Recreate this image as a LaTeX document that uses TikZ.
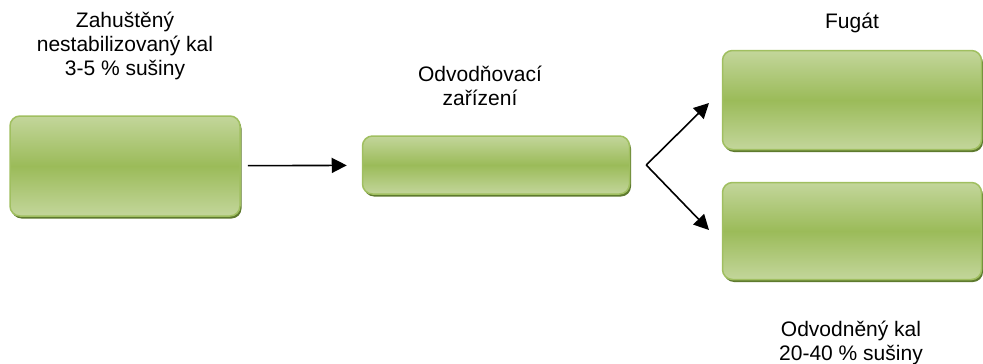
\documentclass[tikz,border=0pt]{standalone}
\usepackage{fontspec}
\setmainfont{Liberation Sans}
\usepackage{tikz}
\usetikzlibrary{positioning, arrows.meta, shadows}
\usepackage{xcolor}

\definecolor{kalLight}{HTML}{C3D69B}
\definecolor{kalMid}{HTML}{9BBB59}
\definecolor{kalEdge}{HTML}{A0BF60}
\definecolor{kalShadow}{HTML}{5E7A2E}

\tikzset{
	kalbox/.style={rounded corners=10pt, draw=kalEdge, line width=1.5pt,
		top color=kalLight, bottom color=kalLight, middle color=kalMid,
		drop shadow={shadow xshift=1.5pt, shadow yshift=-2.5pt, fill=kalShadow, opacity=1},
		inner sep=0pt},
	popis/.style={align=center, anchor=base, inner sep=0pt,
		font=\fontsize{21pt}{24pt}\selectfont},
	sipka/.style={-{Triangle[length=15pt, width=15pt]}, line width=1.6pt, black}
}

\begin{document}
\begin{tikzpicture}[x=1pt, y=-1pt]
					\useasboundingbox (0,0) rectangle (983,364);
					
					\node[kalbox, minimum width=230pt, minimum height=100pt] at (125,166) (zahusteny) {};
					\node[kalbox, minimum width=267pt, minimum height=58pt] at (496,165) (odvodnovac) {};
					\node[kalbox, minimum width=259pt, minimum height=99pt] at (852,100) (fugat) {};
					\node[kalbox, minimum width=259pt, minimum height=97pt] at (852,231) (kal) {};
					
					% base = posledni radek
					\node[popis] at (125,75) (tZahusteny) {Zahuštěný\\nestabilizovaný kal\\3-5 \% sušiny};
					\node[popis] at (480,105) (tOdvodnovac) {Odvodňovací\\zařízení};
					\node[popis] at (852,28) (tFugat) {Fugát};
					\node[popis] at (851,360) (tKal) {Odvodněný kal\\20-40 \% sušiny};
					
					\coordinate[right=16pt of odvodnovac] (rozdeleni);
					\coordinate (hrotFugat) at (709,103);
					\coordinate (hrotKal) at (709,230);
					
					\draw
					(zahusteny) edge[sipka, shorten <=7pt, shorten >=15pt] (odvodnovac)
					(rozdeleni) edge[sipka] (hrotFugat)
					(rozdeleni) edge[sipka] (hrotKal);
				\end{tikzpicture}
\end{document}
